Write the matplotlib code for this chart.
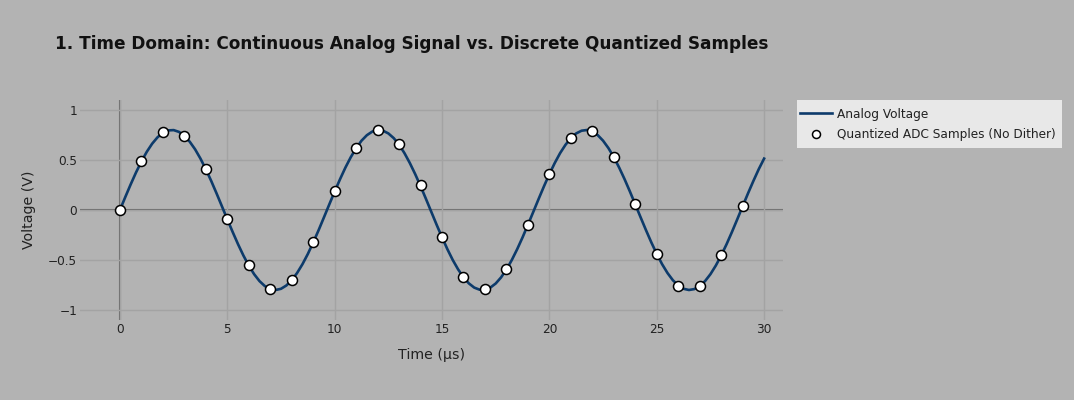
import matplotlib
matplotlib.use("Agg")
import matplotlib.pyplot as plt
from matplotlib.patches import Rectangle

# Analog voltage, read at 0.25 us steps
analog_t = [i * 0.25 for i in range(121)]
analog_v = [
    0.000, 0.130, 0.256, 0.376, 0.485, 0.582, 0.663, 0.727, 0.772, 0.796,
    0.799, 0.781, 0.742, 0.683, 0.607, 0.514, 0.408, 0.291, 0.166, 0.037,
    -0.093, -0.220, -0.342, -0.455, -0.556, -0.642, -0.711, -0.761, -0.791, -0.800,
    -0.788, -0.755, -0.702, -0.630, -0.542, -0.440, -0.325, -0.203, -0.074, 0.056,
    0.184, 0.308, 0.424, 0.528, 0.618, 0.693, 0.748, 0.784, 0.800, 0.793,
    0.766, 0.719, 0.653, 0.569, 0.470, 0.359, 0.239, 0.112, -0.018, -0.148,
    -0.273, -0.392, -0.500, -0.594, -0.673, -0.734, -0.776, -0.797, -0.797, -0.776,
    -0.735, -0.674, -0.595, -0.500, -0.392, -0.274, -0.148, -0.019, 0.111, 0.238,
    0.359, 0.470, 0.569, 0.652, 0.719, 0.766, 0.793, 0.800, 0.784, 0.749,
    0.693, 0.619, 0.528, 0.424, 0.309, 0.185, 0.056, -0.074, -0.202, -0.325,
    -0.439, -0.542, -0.630, -0.702, -0.755, -0.788, -0.800, -0.791, -0.761, -0.711,
    -0.642, -0.556, -0.455, -0.343, -0.221, -0.093, 0.037, 0.166, 0.290, 0.408,
    0.514,
]

# Quantized ADC samples at 1 us
sample_t = list(range(30))
sample_v = [
    0.00, 0.49, 0.78, 0.74, 0.41, -0.09, -0.55, -0.79, -0.70, -0.32,
    0.19, 0.62, 0.80, 0.66, 0.25, -0.27, -0.67, -0.79, -0.59, -0.15,
    0.36, 0.72, 0.79, 0.53, 0.06, -0.44, -0.76, -0.76, -0.45, 0.04,
]

BG = "#b3b3b3"
W, H = 1074, 400
fig = plt.figure(figsize=(W / 100, H / 100), dpi=100, facecolor=BG)
ax = fig.add_axes([80 / W, 1 - 320 / H, 703 / W, 220 / H], facecolor=BG)
ax.set_zorder(2)
ax.patch.set_alpha(0)

ax.plot(analog_t, analog_v, color="#0d3b6b", lw=1.9, label="Analog Voltage", zorder=3)
ax.plot(sample_t, sample_v, ls="none", marker="o", ms=7.2, mfc="white",
        mec="black", mew=1.1, label="Quantized ADC Samples (No Dither)", zorder=4)

ax.set_xlim(-1.86, 30.88)
ax.set_ylim(-1.1, 1.1)
ax.set_xticks([0, 5, 10, 15, 20, 25, 30])
ax.set_yticks([-1, -0.5, 0, 0.5, 1])
ax.set_yticklabels(["\u22121", "\u22120.5", "0", "0.5", "1"])
ax.grid(True, color="#a3a3a3", lw=1.0, zorder=0)
ax.axhline(0, color="#6a6a6a", lw=1.5, zorder=1)
ax.axvline(0, color="#6a6a6a", lw=1.5, zorder=1)
for s in ax.spines.values():
    s.set_visible(False)
ax.tick_params(length=0, labelsize=8.7, colors="#222222")
ax.tick_params(axis="y", pad=2)
ax.tick_params(axis="x", pad=2)

ax.set_xlabel("Time (\u00b5s)", fontsize=10.2, color="#222222", labelpad=9)
ax.set_ylabel("Voltage (V)", fontsize=10.2, color="#222222", labelpad=8.5)

fig.text(55 / W, 1 - 44 / H, "1. Time Domain: Continuous Analog Signal vs. Discrete Quantized Samples",
         fontsize=12.15, fontweight="bold", color="#111111", va="center", ha="left")

# legend background box
fig.patches.append(Rectangle((797 / W, 1 - 148 / H), 265 / W, 48 / H,
                             transform=fig.transFigure, facecolor="#e8e8e8",
                             edgecolor="none", zorder=-1))
leg = ax.legend(loc="center left", bbox_to_anchor=(800 / W, 1 - 124.5 / H),
                bbox_transform=fig.transFigure, frameon=False,
                fontsize=8.7, borderpad=0, handlelength=2.67, handletextpad=0.42,
                labelspacing=0.63, borderaxespad=0, markerscale=0.8)
for t in leg.get_texts():
    t.set_color("#222222")

fig.savefig("out.png", dpi=100, facecolor=BG)
